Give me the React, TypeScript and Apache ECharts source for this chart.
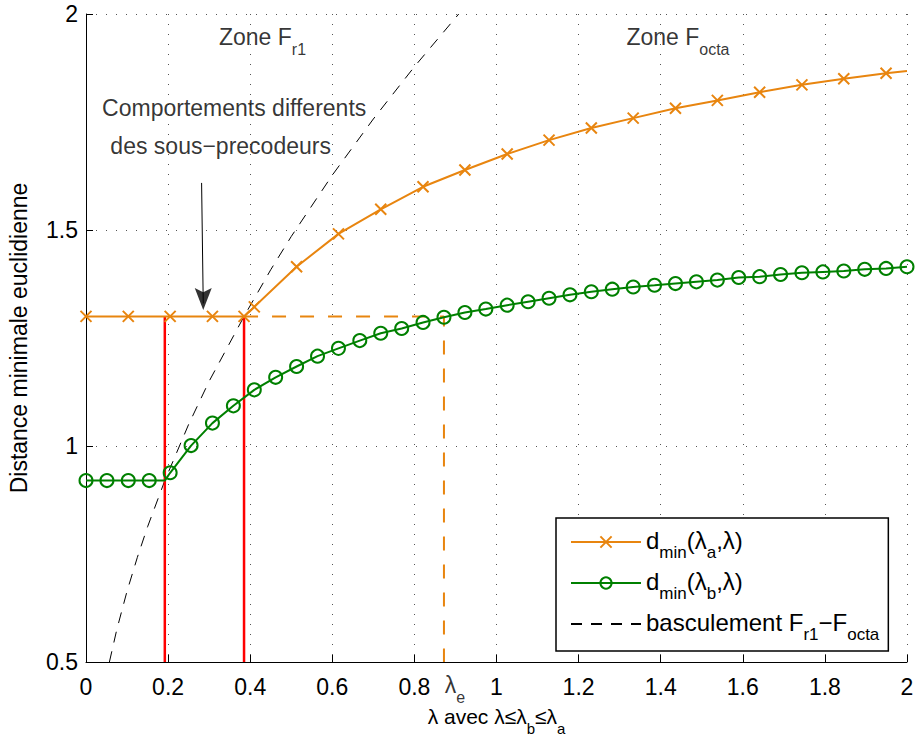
import React, { useEffect, useRef } from "react";
import * as echarts from "echarts";

const FONT = '"Liberation Sans", Arial, Helvetica, sans-serif';
const ORANGE = "#e8850f";
const GREEN = "#008000";
const RED = "#ff0000";

// Orange curve d_min(lambda_a, lambda)
const orangeX = [0, 0.103, 0.205, 0.308, 0.385, 0.41, 0.513, 0.615, 0.718, 0.821, 0.923, 1.026, 1.128, 1.231, 1.333, 1.436, 1.538, 1.641, 1.744, 1.846, 1.949, 2.0];
const orangeY = [1.3, 1.3, 1.3, 1.3, 1.3, 1.322, 1.415, 1.491, 1.548, 1.6, 1.639, 1.676, 1.708, 1.736, 1.759, 1.782, 1.8, 1.819, 1.836, 1.85, 1.863, 1.868];

// Green curve d_min(lambda_b, lambda)
const greenX = [0, 0.051, 0.103, 0.154, 0.192, 0.205, 0.256, 0.308, 0.359, 0.41, 0.462, 0.513, 0.564, 0.615, 0.667, 0.718, 0.769, 0.821, 0.872, 0.923, 0.974, 1.026, 1.077, 1.128, 1.179, 1.231, 1.282, 1.333, 1.385, 1.436, 1.487, 1.538, 1.59, 1.641, 1.692, 1.744, 1.795, 1.846, 1.897, 1.949, 2.0];
const greenY = [0.92, 0.92, 0.92, 0.92, 0.92, 0.938, 1.001, 1.053, 1.093, 1.13, 1.159, 1.184, 1.208, 1.226, 1.244, 1.261, 1.272, 1.286, 1.298, 1.309, 1.317, 1.326, 1.334, 1.342, 1.35, 1.357, 1.363, 1.368, 1.372, 1.376, 1.38, 1.384, 1.39, 1.392, 1.397, 1.401, 1.403, 1.405, 1.409, 1.411, 1.415];
const greenNoMarker = [4];

// Black dashed switching curve F_r1 - F_octa
const switchX = [0.057, 0.075, 0.1, 0.125, 0.15, 0.192, 0.25, 0.3, 0.385, 0.45, 0.5, 0.6, 0.7, 0.8, 0.908];
const switchY = [0.5, 0.575, 0.664, 0.742, 0.813, 0.92, 1.05, 1.15, 1.3, 1.408, 1.485, 1.627, 1.757, 1.878, 2.0];

// Vertical red markers and lambda_e
const redX = [0.192, 0.385];
const levelY = 1.3;
const lambdaE = 0.872;
const yBottom = 0.5;

const xTicks = [0, 0.2, 0.4, 0.6, 0.8, 1, 1.2, 1.4, 1.6, 1.8, 2];
const yTicks = [0.5, 1, 1.5, 2];

const FS = 23;
const rich = {
  m: { fontSize: FS, fontFamily: FONT, color: "#000", lineHeight: 28, verticalAlign: "top" },
  s: { fontSize: 16, fontFamily: FONT, color: "#000", lineHeight: 16, padding: [16, 0, 0, 0], verticalAlign: "top" },
};
const nameRich = {
  m: { fontSize: 21, fontFamily: FONT, color: "#000", lineHeight: 26, verticalAlign: "top" },
  s: { fontSize: 15, fontFamily: FONT, color: "#000", lineHeight: 15, padding: [15, 0, 0, 0], verticalAlign: "top" },
};
const legendRich = {
  m: { fontSize: 24, fontFamily: FONT, color: "#000", lineHeight: 28, verticalAlign: "top" },
  s: { fontSize: 17, fontFamily: FONT, color: "#000", lineHeight: 16, padding: [16, 0, 0, 0], verticalAlign: "top" },
};

const legendNames: Record<string, string> = {
  a: "{m|d}{s|min}{m|(λ}{s|a}{m|,λ)}",
  b: "{m|d}{s|min}{m|(λ}{s|b}{m|,λ)}",
  c: "{m|basculement F}{s|r1}{m|−F}{s|octa}",
};

const X_SYMBOL = "path://M0,0L10,10M10,0L0,10";
const ARROW = "path://M0,0L5,4L10,0L5,20Z";

export default function App() {
  const ref = useRef<HTMLDivElement>(null);
  useEffect(() => {
    const chart = echarts.init(ref.current!, undefined, { renderer: "svg" });
    const textPoint = (x: number, y: number, text: string) => ({
      value: [x, y],
      label: { show: true, position: "inside", formatter: text, rich },
    });
    const option: any = {
      animation: false,
      grid: { left: 86, right: 9, top: 14, bottom: 80, containLabel: false, outerBoundsMode: "none" },
      legend: {
        data: ["a", "b", "c"],
        orient: "vertical",
        left: 556,
        top: 518,
        padding: [10, 9, 8, 14],
        itemWidth: 70,
        itemHeight: 14,
        itemGap: 8,
        borderColor: "#000",
        borderWidth: 1.5,
        backgroundColor: "#fff",
        formatter: (n: string) => legendNames[n],
        textStyle: { rich: legendRich, fontFamily: FONT, fontSize: 24 },
        selectedMode: false,
      },
      xAxis: {
        type: "value",
        min: 0,
        max: 2,
        interval: 0.2,
        axisLine: { show: true, onZero: false, lineStyle: { color: "#000", width: 1 } },
        axisTick: { show: true, inside: true, length: 7, lineStyle: { color: "#000" } },
        axisLabel: {
          fontSize: FS,
          fontFamily: FONT,
          color: "#000",
          margin: 13,
          formatter: (v: number) => {
            const t = xTicks.find((q) => Math.abs(q - v) < 1e-6);
            return t === undefined ? "" : String(t);
          },
        },
        splitLine: { show: true, lineStyle: { color: "#555", type: [1, 9], width: 1 } },
        name: "{m|λ avec λ≤λ}{s|b}{m|≤λ}{s|a}",
        nameLocation: "middle",
        nameGap: 44,
        nameTextStyle: { rich: nameRich },
      },
      yAxis: {
        type: "value",
        min: 0.5,
        max: 2,
        interval: 0.5,
        axisLine: { show: true, onZero: false, lineStyle: { color: "#000", width: 1 } },
        axisTick: { show: true, inside: true, length: 7, lineStyle: { color: "#000" } },
        axisLabel: {
          fontSize: FS,
          fontFamily: FONT,
          color: "#000",
          margin: 8,
          formatter: (v: number) => {
            const t = yTicks.find((q) => Math.abs(q - v) < 1e-6);
            return t === undefined ? "" : String(t);
          },
        },
        splitLine: { show: true, lineStyle: { color: "#555", type: [1, 9], width: 1 } },
        name: "Distance minimale euclidienne",
        nameLocation: "middle",
        nameGap: 56,
        nameTextStyle: { fontSize: FS, fontFamily: FONT, color: "#000" },
      },
      series: [
        {
          name: "c",
          type: "line",
          data: switchX.map((x, i) => [x, switchY[i]]),
          symbol: "none",
          lineStyle: { color: "#000", width: 1, type: [11, 9] },
          itemStyle: { color: "rgba(0,0,0,0)" },
          silent: true,
          z: 2,
        },
        {
          name: "red1",
          type: "line",
          data: [[redX[0], yBottom], [redX[0], levelY]],
          symbol: "none",
          lineStyle: { color: RED, width: 2.5 },
          silent: true,
          z: 3,
        },
        {
          name: "red2",
          type: "line",
          data: [[redX[1], yBottom], [redX[1], levelY]],
          symbol: "none",
          lineStyle: { color: RED, width: 2.5 },
          silent: true,
          z: 3,
        },
        {
          name: "odash",
          type: "line",
          data: [[redX[1], levelY], [lambdaE, levelY], [lambdaE, yBottom]],
          symbol: "none",
          lineStyle: { color: ORANGE, width: 2, type: [14, 14] },
          silent: true,
          z: 3,
        },
        {
          name: "a",
          type: "line",
          data: orangeX.map((x, i) =>
            i === orangeX.length - 1 ? { value: [x, orangeY[i]], symbol: "none" } : [x, orangeY[i]]
          ),
          symbol: X_SYMBOL,
          symbolSize: 11,
          showAllSymbol: true,
          lineStyle: { color: ORANGE, width: 2 },
          itemStyle: { color: ORANGE, borderColor: ORANGE, borderWidth: 2 },
          silent: true,
          z: 4,
        },
        {
          name: "b",
          type: "line",
          data: greenX.map((x, i) =>
            greenNoMarker.includes(i) ? { value: [x, greenY[i]], symbol: "none" } : [x, greenY[i]]
          ),
          symbol: "circle",
          symbolSize: 13,
          showAllSymbol: true,
          lineStyle: { color: GREEN, width: 2 },
          itemStyle: { color: "rgba(0,0,0,0)", borderColor: GREEN, borderWidth: 2 },
          silent: true,
          z: 4,
        },
        {
          name: "arrowShaft",
          type: "line",
          data: [[0.2816, 1.609], [0.2856, 1.33]],
          symbol: "none",
          lineStyle: { color: "#000", width: 1 },
          silent: true,
          z: 5,
        },
        {
          name: "arrowHead",
          type: "scatter",
          data: [[0.2856, 1.315]],
          symbol: ARROW,
          symbolSize: [17, 22],
          symbolOffset: [0, "-50%"],
          itemStyle: { color: "#000" },
          silent: true,
          z: 5,
        },
        {
          name: "texts",
          type: "scatter",
          symbolSize: 1,
          itemStyle: { color: "rgba(0,0,0,0)" },
          silent: true,
          clip: false,
          z: 6,
          data: [
            textPoint(0.43, 1.94, "{m|Zone F}{s|r1}"),
            textPoint(1.442, 1.94, "{m|Zone F}{s|octa}"),
            textPoint(0.361, 1.776, "{m|Comportements differents}"),
            textPoint(0.328, 1.688, "{m|des sous−precodeurs}"),
            {
              value: [lambdaE, yBottom],
              label: {
                show: true,
                position: "bottom",
                distance: 11,
                offset: [11, 0],
                formatter: "{m|λ}{s|e}",
                rich,
              },
            },
          ],
        },
      ],
    };
    chart.setOption(option);
    return () => chart.dispose();
  }, []);
  return (
    <div
      ref={ref}
      style={{ position: "fixed", left: 0, top: 0, width: 916, height: 742, background: "#fff" }}
    />
  );
}
